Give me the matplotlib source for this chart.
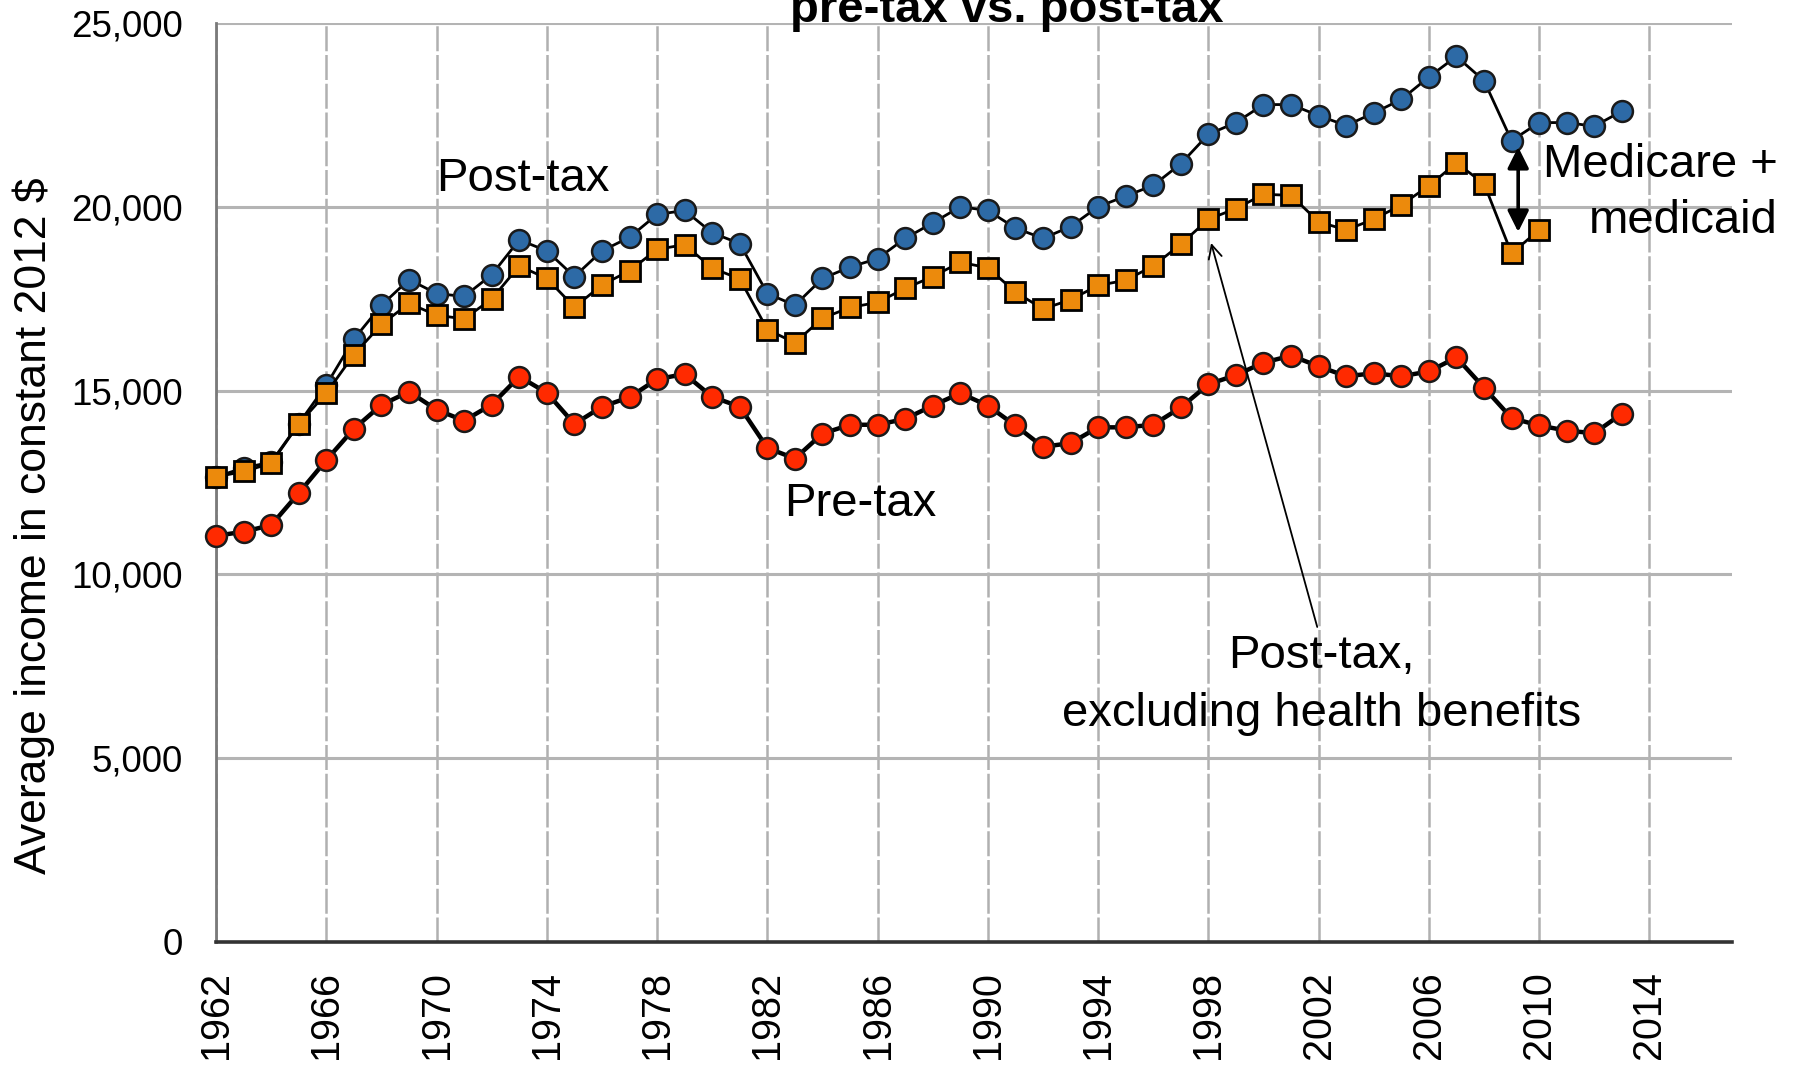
import matplotlib
matplotlib.use("Agg")
import matplotlib.pyplot as plt

years = list(range(1962, 2014))

# average income, constant 2012 dollars
post_tax = [12650, 12900, 13050, 14100, 15150, 16400, 17320, 18020, 17640, 17560,
            18150, 19100, 18800, 18100, 18800, 19170, 19790, 19900, 19290, 19000,
            17640, 17320, 18050, 18360, 18590, 19140, 19560, 20000, 19900, 19420,
            19140, 19460, 20000, 20290, 20580, 21170, 21970, 22290, 22780, 22780,
            22480, 22210, 22550, 22920, 23530, 24090, 23430, 21800, 22290, 22290,
            22190, 22600]

post_tax_ex_health = [12650, 12800, 13020, 14090, 14930, 15980, 16800, 17370, 17050, 16950,
                      17490, 18390, 18050, 17270, 17870, 18260, 18840, 18970, 18330, 18040,
                      16660, 16300, 16970, 17260, 17400, 17780, 18100, 18490, 18340, 17680,
                      17220, 17470, 17860, 18000, 18390, 18980, 19660, 19950, 20340, 20310,
                      19590, 19370, 19660, 20050, 20570, 21190, 20630, 18730, 19370]

pre_tax = [11050, 11160, 11340, 12210, 13110, 13960, 14610, 14970, 14480, 14180,
           14620, 15380, 14940, 14090, 14560, 14820, 15310, 15450, 14830, 14560,
           13440, 13150, 13830, 14070, 14070, 14230, 14590, 14930, 14590, 14050,
           13470, 13570, 14000, 14000, 14070, 14540, 15170, 15420, 15760, 15950,
           15660, 15390, 15470, 15390, 15520, 15900, 15080, 14250, 14050, 13910,
           13840, 14370]

x_ticks = list(range(1962, 2015, 4))
y_ticks = [0, 5000, 10000, 15000, 20000, 25000]

plt.rcParams['font.family'] = ['Liberation Sans', 'DejaVu Sans']

fig = plt.figure(figsize=(17.99, 10.68), dpi=100)
ax = fig.add_axes([0.1201, 0.1180, 0.8427, 0.8605])

ax.plot(years[:len(post_tax)], post_tax, color='black', linewidth=2.0,
        marker='o', markersize=15, markerfacecolor='#2d6aa6',
        markeredgecolor='#1a1a1a', markeredgewidth=1.8, zorder=3, clip_on=False)
ax.plot(years[:len(post_tax_ex_health)], post_tax_ex_health, color='black', linewidth=2.0,
        marker='s', markersize=14.5, markerfacecolor='#ec8a0c',
        markeredgecolor='black', markeredgewidth=2.0, zorder=4, clip_on=False)
ax.plot(years[:len(pre_tax)], pre_tax, color='black', linewidth=3.2,
        marker='o', markersize=15, markerfacecolor='#ff2a00',
        markeredgecolor='#1a1a1a', markeredgewidth=1.8, zorder=5, clip_on=False)

ax.set_xlim(1962, 2017)
ax.set_ylim(0, 25000)
ax.set_xticks(x_ticks)
ax.set_xticklabels([str(y) for y in x_ticks], rotation=90, fontsize=28.5)
ax.set_yticks(y_ticks)
ax.set_yticklabels([f"{v:,}" for v in y_ticks], fontsize=26.5)
ax.tick_params(axis='both', length=0)
ax.tick_params(axis='y', pad=24)
ax.tick_params(axis='x', pad=21)

ax.grid(axis='y', color='#b4b4b4', linewidth=2.2, zorder=0)
ax.grid(axis='x', color='#b0b0b0', linewidth=1.8, linestyle=(0, (10, 1.5)), zorder=0)
ax.set_axisbelow(True)

for side in ['top', 'right']:
    ax.spines[side].set_visible(False)
ax.spines['left'].set_color('#7a7a7a')
ax.spines['left'].set_linewidth(2.0)
ax.spines['bottom'].set_color('#333333')
ax.spines['bottom'].set_linewidth(2.6)

fig.text(34 / 1799, 1 - 526 / 1068, "Average income in constant 2012 $",
         rotation=90, fontsize=32, ha='center', va='center')

fig.text(1007 / 1799, 1 - 22 / 1068, "pre-tax vs. post-tax", fontsize=34,
         fontweight='bold', ha='center', va='baseline')

ax.text(1970.0, 20430, "Post-tax", fontsize=34, ha='left', va='baseline')
ax.text(1982.6, 11590, "Pre-tax", fontsize=34, ha='left', va='baseline')

ax.text(2002.1, 7454, "Post-tax,", fontsize=34, ha='center', va='baseline')
ax.text(2002.1, 5876, "excluding health benefits", fontsize=34, ha='center', va='baseline')
ax.annotate("", xy=(1998.1, 19015), xytext=(2001.95, 8569),
            arrowprops=dict(arrowstyle='->', color='black', lw=1.3,
                            mutation_scale=24, shrinkA=0, shrinkB=0), zorder=6)

ax.text(2018.66, 20811, "Medicare +", fontsize=34, ha='right', va='baseline', clip_on=False)
ax.text(2018.66, 19288, "medicaid", fontsize=34, ha='right', va='baseline', clip_on=False)
ax.annotate("", xy=(2009.24, 21627), xytext=(2009.24, 19315),
            arrowprops=dict(arrowstyle='<|-|>', color='black', lw=2.6,
                            mutation_scale=32, shrinkA=0, shrinkB=0), zorder=6)

fig.savefig("out.png", dpi=100, facecolor='white')
